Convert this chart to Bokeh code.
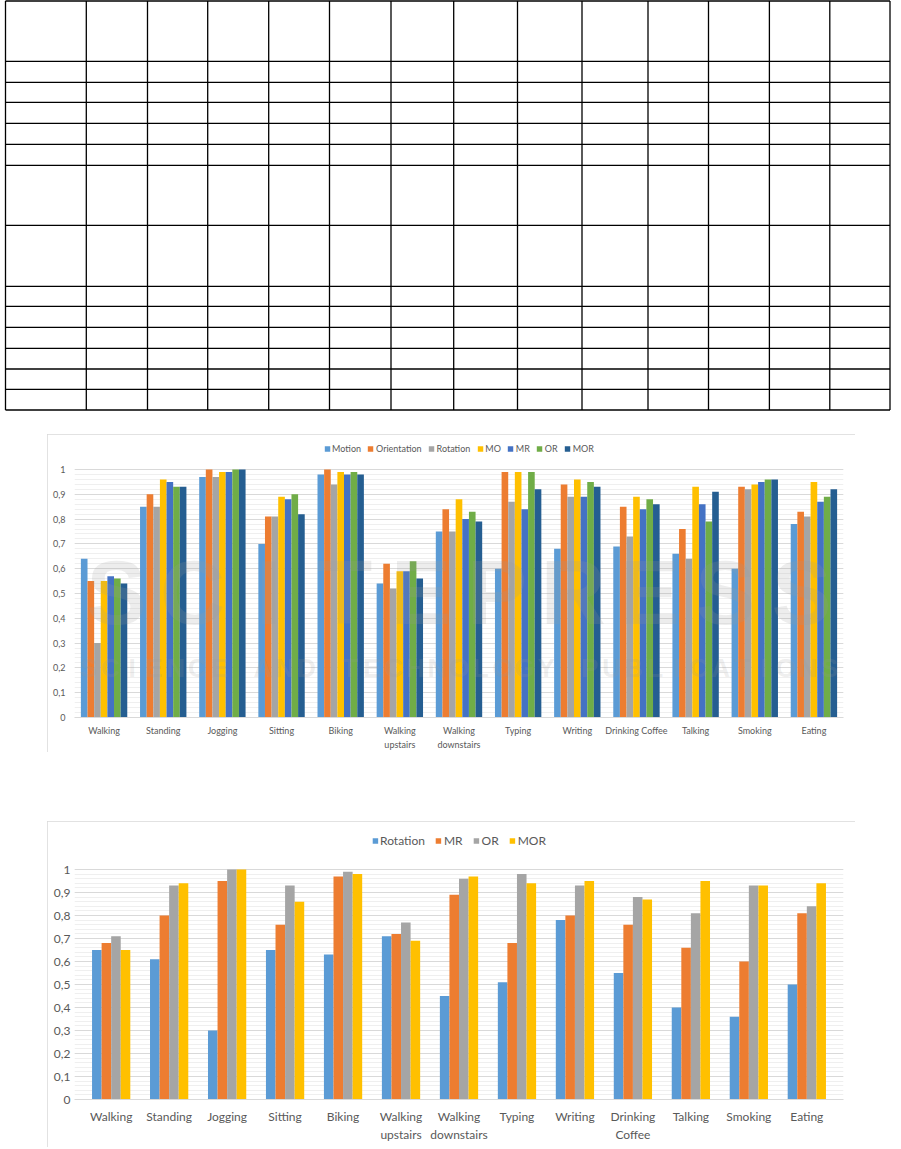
from bokeh.plotting import figure
from bokeh.models import (FactorRange, Range1d, Legend, LegendItem, Label, Div, CategoricalAxis,
                          FixedTicker, CustomJSTickFormatter, ColumnDataSource, Spacer)
from bokeh.transform import dodge
from bokeh.layouts import column, row
from bokeh.embed import file_html
from bokeh.resources import INLINE

# ---------------- data ----------------
categories = ["Walking", "Standing", "Jogging", "Sitting", "Biking", "Walking upstairs",
              "Walking downstairs", "Typing", "Writing", "Drinking Coffee", "Talking",
              "Smoking", "Eating"]
# tick labels, two lines where the original wraps
line1_chart1 = {"Walking upstairs": "Walking", "Walking downstairs": "Walking"}
line2_chart1 = {"Walking upstairs": "upstairs", "Walking downstairs": "downstairs"}
line1_chart2 = {"Walking upstairs": "Walking", "Walking downstairs": "Walking",
                "Drinking Coffee": "Drinking"}
line2_chart2 = {"Walking upstairs": "upstairs", "Walking downstairs": "downstairs",
                "Drinking Coffee": "Coffee"}

series1_names = ["Motion", "Orientation", "Rotation", "MO", "MR", "OR", "MOR"]
motion      = [0.64, 0.85, 0.97, 0.70, 0.98, 0.54, 0.75, 0.60, 0.68, 0.69, 0.66, 0.60, 0.78]
orientation = [0.55, 0.90, 1.00, 0.81, 1.00, 0.62, 0.84, 0.99, 0.94, 0.85, 0.76, 0.93, 0.83]
rotation    = [0.30, 0.85, 0.97, 0.81, 0.94, 0.52, 0.75, 0.87, 0.89, 0.73, 0.64, 0.92, 0.81]
mo          = [0.55, 0.96, 0.99, 0.89, 0.99, 0.59, 0.88, 0.99, 0.96, 0.89, 0.93, 0.94, 0.95]
mr          = [0.57, 0.95, 0.99, 0.88, 0.98, 0.59, 0.80, 0.84, 0.89, 0.84, 0.86, 0.95, 0.87]
or_         = [0.56, 0.93, 1.00, 0.90, 0.99, 0.63, 0.83, 0.99, 0.95, 0.88, 0.79, 0.96, 0.89]
mor         = [0.54, 0.93, 1.00, 0.82, 0.98, 0.56, 0.79, 0.92, 0.93, 0.86, 0.91, 0.96, 0.92]
series1_values = [motion, orientation, rotation, mo, mr, or_, mor]
series1_colors = ["#5B9BD5", "#ED7D31", "#A5A5A5", "#FFC000", "#4472C4", "#70AD47", "#255E91"]

series2_names = ["Rotation", "MR", "OR", "MOR"]
rotation2 = [0.65, 0.61, 0.30, 0.65, 0.63, 0.71, 0.45, 0.51, 0.78, 0.55, 0.40, 0.36, 0.50]
mr2       = [0.68, 0.80, 0.95, 0.76, 0.97, 0.72, 0.89, 0.68, 0.80, 0.76, 0.66, 0.60, 0.81]
or2       = [0.71, 0.93, 1.00, 0.93, 0.99, 0.77, 0.96, 0.98, 0.93, 0.88, 0.81, 0.93, 0.84]
mor2      = [0.65, 0.94, 1.00, 0.86, 0.98, 0.69, 0.97, 0.94, 0.95, 0.87, 0.95, 0.93, 0.94]
series2_values = [rotation2, mr2, or2, mor2]
series2_colors = ["#5B9BD5", "#ED7D31", "#A5A5A5", "#FFC000"]

y_major = [round(i * 0.1, 1) for i in range(11)]
y_minor = [round(i * 0.02, 2) for i in range(51)]

# empty table grid at the top of the page (pixel positions of its rules)
table_cols = [5.5, 86.3, 147.5, 207.7, 268.7, 329.5, 391, 453.7, 517.5, 582, 648, 708.5, 769.4, 829.8, 890]
table_rows = [1, 61.3, 82.3, 102.3, 123.3, 144.3, 165.3, 225.3, 286.3, 306.3, 327.3, 348.3, 369, 389.3, 410]

TEXT = "#595959"
FONT = "Lato"

# ---------------- table (empty grid) ----------------
T_H = 418
lines = []
for x in table_cols:
    lines.append(f'<line x1="{x}" y1="{table_rows[0]}" x2="{x}" y2="{table_rows[-1]}" />')
for y in table_rows:
    lines.append(f'<line x1="{table_cols[0]}" y1="{y}" x2="{table_cols[-1]}" y2="{y}" />')
svg = (f'<svg width="893" height="{T_H}" xmlns="http://www.w3.org/2000/svg" style="display:block">'
       f'<g stroke="black" stroke-width="1.3">{"".join(lines)}</g></svg>')
table_div = Div(text=svg, width=893, height=T_H, margin=0)

BOX_L = 47
BOX_W = 808
MB_L = 27          # frame left = 74
MB_R = 12          # frame right = 843

MAP_JS = "const i = keys.indexOf(tick); return i >= 0 ? vals[i] : dflt.replace('@', tick);"


def factor_formatter(mapping, default):
    keys = list(mapping.keys())
    return CustomJSTickFormatter(args=dict(keys=keys, vals=[mapping[k] for k in keys], dflt=default),
                                 code=MAP_JS)


def make_chart(names, values, colors, l1, l2, H, mb_top, frame_h, y_end, bar_w, font_px,
               legend_margin, legend_spacing, standoff_x, standoff_y, range_pad):
    mb_bottom = H - mb_top - frame_h
    p = figure(width=BOX_W, height=H, title=None,
               x_range=FactorRange(*categories, range_padding=range_pad, factor_padding=0),
               y_range=Range1d(0, y_end), output_backend="svg", toolbar_location=None,
               min_border_left=MB_L, min_border_right=MB_R, min_border_top=mb_top,
               min_border_bottom=mb_bottom, outline_line_color=None)
    p.styles = {"outline": "1px solid #d9d9d9", "outline-offset": "-1px"}
    data = {"cat": categories}
    for n, v in zip(names, values):
        data[n] = v
    src = ColumnDataSource(data)
    k = len(names)
    items = []
    for i, (n, c) in enumerate(zip(names, colors)):
        off = (i - (k - 1) / 2) * bar_w
        r = p.vbar(x=dodge("cat", off, range=p.x_range), top=n, width=bar_w, source=src,
                   fill_color=c, line_color=None)
        items.append(LegendItem(label=n, renderers=[r]))
    p.xgrid.visible = False
    p.ygrid.ticker = FixedTicker(ticks=y_major, minor_ticks=y_minor)
    p.ygrid.grid_line_color = "#d9d9d9"
    p.ygrid.minor_grid_line_color = "#efefef"
    p.yaxis.ticker = FixedTicker(ticks=y_major, minor_ticks=[])
    p.yaxis.formatter = CustomJSTickFormatter(
        code="return tick === 0 ? '0' : (Math.round(tick*10)/10).toString().replace('.', ',');")
    p.yaxis.axis_line_color = None
    p.yaxis.major_tick_line_color = None
    p.yaxis.minor_tick_line_color = None
    p.yaxis.major_tick_out = 0
    p.yaxis.major_tick_in = 0
    p.yaxis.minor_tick_out = 0
    p.yaxis.major_label_standoff = standoff_y
    ax1 = p.xaxis[0]
    ax1.axis_line_color = "#d9d9d9"
    ax1.major_tick_line_color = None
    ax1.minor_tick_line_color = None
    ax1.major_tick_out = 0
    ax1.major_tick_in = 0
    ax1.major_label_standoff = standoff_x
    ax1.formatter = factor_formatter(l1, "@")
    # second line of the wrapped category labels
    ax2 = CategoricalAxis(axis_line_color=None, major_tick_line_color=None,
                          minor_tick_line_color=None, major_tick_out=0, major_tick_in=0,
                          major_label_standoff=0, formatter=factor_formatter(l2, ""))
    p.add_layout(ax2, "below")
    for ax in (ax1, p.yaxis[0], ax2):
        ax.major_label_text_font = FONT
        ax.major_label_text_font_size = f"{font_px}px"
        ax.major_label_text_color = TEXT
    legend = Legend(items=items, orientation="horizontal", location="top_center",
                    glyph_width=7, glyph_height=7, label_standoff=2, spacing=legend_spacing,
                    label_width=0, padding=0, margin=legend_margin, border_line_color=None,
                    background_fill_alpha=0, label_text_font=FONT,
                    label_text_font_size=f"{font_px}px", label_text_color=TEXT,
                    label_height=font_px)
    p.add_layout(legend, "center")
    return p


# ---------------- chart 1 ----------------
C1_TOP = 434
p1 = make_chart(series1_names, series1_values, series1_colors, line1_chart1, line2_chart1,
                318, 6, 277, 277 / 248, 0.112, 9, 3, 6, 7, 9, 0)

# watermark over chart 1 (positions relative to the plot frame: x from left, y from bottom)
FR_L, FR_R, FR_B = 74, 843, 717
wm = "SCITEPRESS"
x0, x1 = FR_L + 42, FR_R - 42
for i, ch in enumerate(wm):
    cx = x0 + i * (x1 - x0) / (len(wm) - 1)
    p1.add_layout(Label(x=cx - FR_L, y=FR_B - 592, x_units="screen", y_units="screen",
                        text=ch, text_align="center", text_baseline="middle",
                        text_font="Liberation Sans", text_font_style="bold",
                        text_font_size="90px", text_color="#9a9a9a", text_alpha=0.18))
wm2 = "SCIENCE AND TECHNOLOGY PUBLICATIONS"
x0, x1 = FR_L + 14, FR_R - 14
for i, ch in enumerate(wm2):
    if ch == " ":
        continue
    cx = x0 + i * (x1 - x0) / (len(wm2) - 1)
    p1.add_layout(Label(x=cx - FR_L, y=FR_B - 667, x_units="screen", y_units="screen",
                        text=ch, text_align="center", text_baseline="middle",
                        text_font="Liberation Sans", text_font_style="bold",
                        text_font_size="26px", text_color="#9a9a9a", text_alpha=0.18))

# ---------------- chart 2 ----------------
C2_TOP = 821
p2 = make_chart(series2_names, series2_values, series2_colors, line1_chart2, line2_chart2,
                326, 5, 273, 273 / 230, 0.165, 12, 7, 10, 9, 4, 0.0204)

layout = column(table_div,
                Spacer(height=C1_TOP - T_H),
                row(Spacer(width=BOX_L), p1),
                Spacer(height=C2_TOP - (C1_TOP + 318)),
                row(Spacer(width=BOX_L), p2),
                spacing=0)

open("out.html", "w").write(file_html(layout, INLINE))
